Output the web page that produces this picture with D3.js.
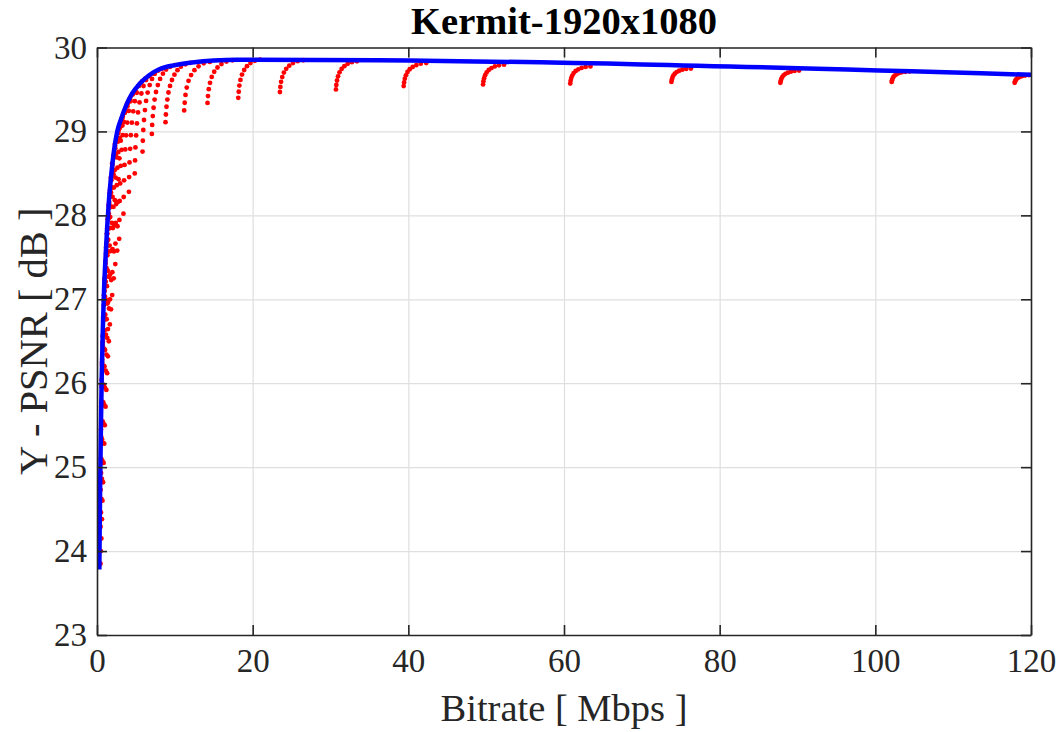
<!DOCTYPE html>
<html>
<head>
<meta charset="utf-8">
<script src="https://cdn.jsdelivr.net/npm/d3@7"></script>
<style>
  html, body { margin: 0; padding: 0; background: #ffffff; }
  svg { display: block; }
  text { font-family: "Liberation Serif", "Times New Roman", serif; }
</style>
</head>
<body>
<svg id="chart" width="1062" height="732"></svg>
<script>
// Encoding sweeps: each array is one rate-distortion run, [bitrate (Mbps), Y-PSNR (dB)]
const sweep01 = [[117.90,29.580],[117.95,29.595],[118.02,29.610],[118.14,29.625],[118.31,29.638],[118.55,29.649],[118.86,29.659],[119.24,29.666],[119.72,29.672],[120.30,29.675]];
const sweep02 = [[102.10,29.590],[102.15,29.610],[102.22,29.630],[102.33,29.649],[102.49,29.666],[102.72,29.681],[103.02,29.694],[103.39,29.704],[103.85,29.711],[104.40,29.715]];
const sweep03 = [[87.80,29.580],[87.85,29.603],[87.92,29.626],[88.04,29.648],[88.21,29.668],[88.45,29.686],[88.76,29.700],[89.14,29.712],[89.62,29.721],[90.20,29.725]];
const sweep04 = [[73.80,29.590],[73.85,29.616],[73.93,29.641],[74.05,29.665],[74.23,29.688],[74.48,29.707],[74.80,29.723],[75.20,29.736],[75.70,29.745],[76.30,29.750]];
const sweep05 = [[60.80,29.570],[60.85,29.603],[60.93,29.636],[61.06,29.666],[61.24,29.695],[61.50,29.720],[61.84,29.740],[62.26,29.757],[62.78,29.769],[63.40,29.775]];
const sweep06 = [[49.60,29.560],[49.65,29.598],[49.74,29.635],[49.87,29.670],[50.06,29.703],[50.33,29.732],[50.68,29.755],[51.11,29.774],[51.65,29.788],[52.30,29.795]];
const sweep07 = [[39.40,29.540],[39.46,29.584],[39.55,29.628],[39.69,29.669],[39.89,29.708],[40.18,29.741],[40.56,29.768],[41.02,29.790],[41.60,29.807],[42.30,29.815]];
const sweep08 = [[30.70,29.500],[30.75,29.554],[30.84,29.607],[30.97,29.657],[31.16,29.704],[31.43,29.745],[31.78,29.778],[32.21,29.805],[32.75,29.825],[33.40,29.835]];
const sweep09 = [[23.50,29.470],[23.56,29.530],[23.65,29.591],[23.80,29.648],[24.01,29.701],[24.31,29.746],[24.70,29.784],[25.18,29.814],[25.78,29.837],[26.50,29.848]];
const sweep10 = [[18.15,29.400],[18.21,29.473],[18.29,29.546],[18.43,29.614],[18.63,29.678],[18.91,29.732],[19.27,29.778],[19.72,29.814],[20.28,29.841],[20.95,29.855]];
const sweep11 = [[14.20,29.340],[14.26,29.421],[14.36,29.503],[14.52,29.579],[14.74,29.650],[15.06,29.711],[15.48,29.762],[15.99,29.802],[16.63,29.833],[17.40,29.848]];
const sweep12 = [[11.20,29.250],[11.27,29.342],[11.37,29.435],[11.53,29.522],[11.76,29.603],[12.09,29.672],[12.52,29.730],[13.05,29.776],[13.71,29.811],[14.50,29.828]];
const sweep13 = [[8.80,29.110],[8.85,29.202],[8.93,29.294],[9.04,29.379],[9.18,29.464],[9.38,29.542],[9.63,29.613],[9.95,29.676],[10.34,29.730],[10.78,29.772],[11.36,29.800],[12.00,29.818]];
const sweep14 = [[7.05,28.970],[7.09,29.077],[7.17,29.183],[7.27,29.282],[7.40,29.380],[7.58,29.470],[7.82,29.552],[8.11,29.626],[8.47,29.688],[8.88,29.737],[9.41,29.770],[10.00,29.790]];
const sweep15 = [[5.85,28.760],[5.89,28.889],[5.95,29.017],[6.04,29.136],[6.16,29.255],[6.31,29.364],[6.51,29.463],[6.77,29.552],[7.07,29.626],[7.43,29.686],[7.89,29.725],[8.40,29.750]];
const sweep16 = [[4.85,28.500],[4.89,28.655],[4.94,28.809],[5.03,28.952],[5.13,29.095],[5.27,29.226],[5.46,29.345],[5.70,29.452],[5.98,29.541],[6.31,29.613],[6.73,29.660],[7.20,29.690]];
const sweep17 = [[4.10,28.280],[4.13,28.456],[4.18,28.631],[4.26,28.793],[4.35,28.955],[4.48,29.104],[4.65,29.239],[4.86,29.360],[5.11,29.461],[5.40,29.542],[5.78,29.596],[6.20,29.630]];
const sweep18 = [[3.40,28.020],[3.43,28.219],[3.48,28.418],[3.54,28.601],[3.63,28.785],[3.74,28.953],[3.89,29.106],[4.08,29.244],[4.31,29.359],[4.58,29.440],[4.92,29.490],[5.30,29.540]];
const sweep19 = [[2.85,27.720],[2.88,27.946],[2.92,28.172],[2.98,28.381],[3.06,28.590],[3.17,28.781],[3.31,28.955],[3.48,29.112],[3.69,29.243],[3.94,29.330],[4.25,29.400],[4.60,29.450]];
const sweep20 = [[2.60,27.580],[2.63,27.870],[2.68,28.160],[2.77,28.430],[2.88,28.680],[3.05,28.890],[3.26,29.070],[3.52,29.220],[3.85,29.330],[4.25,29.380]];
const sweep21 = [[2.35,27.420],[2.37,27.664],[2.41,27.909],[2.47,28.134],[2.54,28.360],[2.63,28.567],[2.75,28.755],[2.91,28.924],[3.09,29.065],[3.31,29.178],[3.59,29.253],[3.90,29.300]];
const sweep22 = [[2.15,27.250],[2.18,27.570],[2.22,27.880],[2.29,28.180],[2.39,28.450],[2.53,28.690],[2.71,28.880],[2.93,29.040],[3.21,29.160],[3.55,29.220]];
const sweep23 = [[1.95,27.050],[1.97,27.323],[2.00,27.596],[2.05,27.848],[2.11,28.100],[2.18,28.331],[2.29,28.541],[2.42,28.730],[2.57,28.888],[2.76,29.014],[2.99,29.098],[3.25,29.150]];
const sweep24 = [[1.80,26.880],[1.82,27.230],[1.86,27.580],[1.92,27.910],[2.00,28.220],[2.12,28.490],[2.28,28.710],[2.47,28.880],[2.71,29.010],[3.00,29.080]];
const sweep25 = [[1.65,26.700],[1.67,26.999],[1.69,27.298],[1.73,27.574],[1.78,27.850],[1.85,28.103],[1.94,28.333],[2.05,28.540],[2.18,28.713],[2.33,28.830],[2.53,28.920],[2.75,28.980]];
const sweep26 = [[1.52,26.500],[1.54,26.890],[1.57,27.270],[1.62,27.640],[1.70,27.980],[1.80,28.270],[1.93,28.510],[2.10,28.700],[2.30,28.850],[2.55,28.920]];
const sweep27 = [[1.40,26.320],[1.41,26.645],[1.44,26.970],[1.47,27.270],[1.51,27.570],[1.57,27.845],[1.65,28.095],[1.74,28.320],[1.86,28.470],[1.99,28.600],[2.16,28.720],[2.35,28.800]];
const sweep28 = [[1.30,26.120],[1.32,26.540],[1.34,26.950],[1.39,27.340],[1.44,27.710],[1.53,28.020],[1.64,28.260],[1.78,28.450],[1.95,28.620],[2.15,28.700]];
const sweep29 = [[1.20,25.920],[1.22,26.341],[1.24,26.762],[1.28,27.156],[1.34,27.524],[1.42,27.840],[1.52,28.103],[1.65,28.270],[1.81,28.420],[2.00,28.520]];
const sweep30 = [[1.10,25.720],[1.12,26.150],[1.14,26.580],[1.18,26.990],[1.23,27.370],[1.30,27.690],[1.40,27.960],[1.52,28.120],[1.67,28.300],[1.85,28.420]];
const sweep31 = [[1.00,25.500],[1.01,25.948],[1.04,26.396],[1.07,26.816],[1.12,27.208],[1.19,27.544],[1.28,27.780],[1.39,27.950],[1.53,28.130],[1.70,28.260]];
const sweep32 = [[0.93,25.280],[0.94,25.740],[0.96,26.200],[1.00,26.630],[1.04,27.030],[1.11,27.350],[1.19,27.550],[1.29,27.780],[1.42,27.980],[1.58,28.150]];
const sweep33 = [[0.85,25.050],[0.86,25.514],[0.88,25.978],[0.91,26.413],[0.95,26.819],[1.01,27.167],[1.09,27.457],[1.19,27.660],[1.31,27.840],[1.45,27.950]];
const sweep34 = [[0.78,24.820],[0.79,25.290],[0.81,25.770],[0.83,26.210],[0.87,26.630],[0.93,26.980],[1.00,27.220],[1.08,27.420],[1.19,27.620],[1.32,27.780]];
const sweep35 = [[0.70,24.600],[0.71,25.072],[0.73,25.544],[0.75,25.987],[0.79,26.400],[0.84,26.754],[0.90,27.049],[0.98,27.250],[1.08,27.430],[1.20,27.550]];
const sweep36 = [[0.63,24.380],[0.64,24.860],[0.65,25.330],[0.67,25.780],[0.71,26.190],[0.75,26.500],[0.81,26.780],[0.88,27.000],[0.97,27.220],[1.08,27.350]];
const sweep37 = [[0.56,24.150],[0.57,24.622],[0.58,25.094],[0.60,25.537],[0.63,25.950],[0.67,26.280],[0.73,26.560],[0.80,26.790],[0.88,26.990],[0.98,27.100]];
const sweep38 = [[0.50,24.000],[0.51,24.460],[0.52,24.930],[0.54,25.360],[0.56,25.770],[0.60,26.040],[0.65,26.250],[0.71,26.480],[0.79,26.740],[0.88,26.930]];
const sweep39 = [[0.45,23.850],[0.46,24.290],[0.47,24.730],[0.49,25.100],[0.51,25.450],[0.54,25.720],[0.59,25.980],[0.65,26.220],[0.72,26.450],[0.80,26.580]];

const sweeps = [sweep01, sweep02, sweep03, sweep04, sweep05, sweep06, sweep07, sweep08, sweep09, sweep10,
                sweep11, sweep12, sweep13, sweep14, sweep15, sweep16, sweep17, sweep18, sweep19, sweep20,
                sweep21, sweep22, sweep23, sweep24, sweep25, sweep26, sweep27, sweep28, sweep29, sweep30,
                sweep31, sweep32, sweep33, sweep34, sweep35, sweep36, sweep37, sweep38, sweep39];

// Best rate-quality front over all runs
const frontRate = [0.30, 0.35, 0.40, 0.50, 0.60, 0.75, 0.90, 1.10, 1.30, 1.55, 1.85, 2.20, 2.60, 3.10, 3.70, 4.50, 5.50, 6.70, 8.00, 10.0, 12.5, 15.0, 18.0, 20.0, 120.0];
const frontPsnr = [23.78, 24.30, 24.75, 25.45, 26.05, 26.65, 27.10, 27.50, 27.85, 28.20, 28.50, 28.78, 29.00, 29.15, 29.30, 29.45, 29.57, 29.67, 29.74, 29.79, 29.825, 29.845, 29.855, 29.855, 29.675];

// Axis ticks and labels
const xTicks = [0, 20, 40, 60, 80, 100, 120];
const yTicks = [23, 24, 25, 26, 27, 28, 29, 30];
const chartTitle = "Kermit-1920x1080";
const xLabel = "Bitrate [ Mbps ]";
const yLabel = "Y - PSNR [ dB ]";

const plot = { left: 97, right: 1031, top: 47.5, bottom: 635 };
const tickFont = 33, titleFont = 38.5, xLabelFont = 38.5, yLabelFont = 40.5;
const axisColor = "#262626";
const serif = '"Liberation Serif","Times New Roman",serif';

const svg = d3.select("#chart");

const x = d3.scaleLinear().domain([0, 120]).range([plot.left, plot.right]);
const y = d3.scaleLinear().domain([23, 30]).range([plot.bottom, plot.top]);
const plotW = plot.right - plot.left, plotH = plot.bottom - plot.top;

svg.append("defs").append("clipPath").attr("id", "plotClip")
  .append("rect").attr("x", plot.left).attr("y", plot.top).attr("width", plotW).attr("height", plotH);

svg.append("rect").attr("x", plot.left).attr("y", plot.top).attr("width", plotW).attr("height", plotH).attr("fill", "#ffffff");

// Grid lines
const gx = svg.append("g").attr("transform", `translate(0,${plot.bottom})`)
  .call(d3.axisBottom(x).tickValues(xTicks).tickSize(-plotH).tickFormat(""));
const gy = svg.append("g").attr("transform", `translate(${plot.left},0)`)
  .call(d3.axisLeft(y).tickValues(yTicks).tickSize(-plotW).tickFormat(""));
[gx, gy].forEach(g => {
  g.select(".domain").remove();
  g.selectAll("line").attr("stroke", "#dfdfdf").attr("stroke-width", 1.2);
});

// Data: red run points, blue front line on top
const data = svg.append("g").attr("clip-path", "url(#plotClip)");
data.append("g").selectAll("g").data(sweeps).join("g")
  .selectAll("circle").data(d => d).join("circle")
  .attr("cx", d => x(d[0])).attr("cy", d => y(d[1]))
  .attr("r", 2.4).attr("fill", "#ff0000");

const front = frontRate.map((r, i) => [r, frontPsnr[i]]);
data.append("path").datum(front)
  .attr("d", d3.line().x(d => x(d[0])).y(d => y(d[1])).curve(d3.curveMonotoneX))
  .attr("fill", "none").attr("stroke", "#0000ff").attr("stroke-width", 4.5)
  .attr("stroke-linejoin", "round");

// Axes box with inward ticks on all sides
function styleAxis(g, keepText) {
  g.select(".domain").attr("stroke", axisColor).attr("stroke-width", 1.6);
  g.selectAll(".tick line").attr("stroke", axisColor).attr("stroke-width", 1.6);
  if (keepText) g.selectAll(".tick text").attr("fill", "#262626")
      .style("font-size", tickFont + "px").style("font-family", serif);
}
const axB = svg.append("g").attr("transform", `translate(0,${plot.bottom})`)
  .call(d3.axisBottom(x).tickValues(xTicks).tickSize(-10).tickSizeOuter(0).tickPadding(14).tickFormat(d3.format("d")));
styleAxis(axB, true);
const axT = svg.append("g").attr("transform", `translate(0,${plot.top})`)
  .call(d3.axisTop(x).tickValues(xTicks).tickSize(-10).tickSizeOuter(0).tickFormat(""));
styleAxis(axT, false);
const axL = svg.append("g").attr("transform", `translate(${plot.left},0)`)
  .call(d3.axisLeft(y).tickValues(yTicks).tickSize(-10).tickSizeOuter(0).tickPadding(10).tickFormat(d3.format("d")));
styleAxis(axL, true);
const axR = svg.append("g").attr("transform", `translate(${plot.right},0)`)
  .call(d3.axisRight(y).tickValues(yTicks).tickSize(-10).tickSizeOuter(0).tickFormat(""));
styleAxis(axR, false);

// Titles
svg.append("text").attr("x", (plot.left + plot.right) / 2).attr("y", 34)
  .attr("text-anchor", "middle").attr("font-weight", "bold").attr("fill", "#000")
  .style("font-size", titleFont + "px").text(chartTitle);
svg.append("text").attr("x", (plot.left + plot.right) / 2).attr("y", 721)
  .attr("text-anchor", "middle").attr("fill", "#262626")
  .style("font-size", xLabelFont + "px").text(xLabel);
svg.append("text").attr("transform", `translate(47,${(plot.top + plot.bottom) / 2}) rotate(-90)`)
  .attr("text-anchor", "middle").attr("fill", "#262626")
  .style("font-size", yLabelFont + "px").text(yLabel);
</script>
</body>
</html>
